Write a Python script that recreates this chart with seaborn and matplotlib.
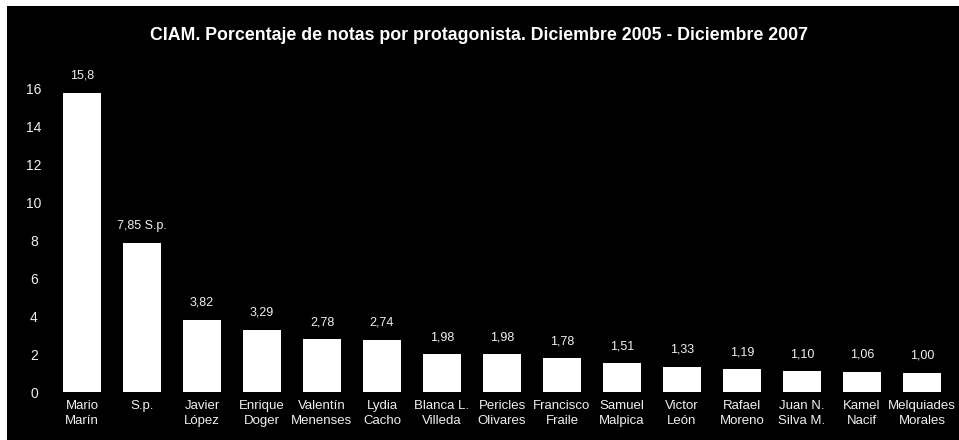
import numpy as np
import pandas as pd
import matplotlib
matplotlib.use("Agg")
import matplotlib.pyplot as plt
import seaborn as sns
from matplotlib.patches import Rectangle

# data
names = ["Mario\nMarín", "S.p.", "Javier\nLópez", "Enrique\nDoger", "Valentín\nMenenses",
         "Lydia\nCacho", "Blanca L.\nVilleda", "Pericles\nOlivares", "Francisco\nFraile",
         "Samuel\nMalpica", "Victor\nLeón", "Rafael\nMoreno", "Juan N.\nSilva M.",
         "Kamel\nNacif", "Melquiades\nMorales"]
porcentaje = [15.8, 7.85, 3.82, 3.29, 2.78, 2.74, 1.98, 1.98, 1.78, 1.51, 1.33, 1.19, 1.10, 1.06, 1.00]
etiquetas = ["15,8", "7,85 S.p.", "3,82", "3,29", "2,78", "2,74", "1,98", "1,98", "1,78",
             "1,51", "1,33", "1,19", "1,10", "1,06", "1,00"]
yticks = [0, 2, 4, 6, 8, 10, 12, 14, 16]

df = pd.DataFrame({"nombre": names, "pct": porcentaje})

sns.set_style("dark")
plt.rcParams["font.family"] = ["Liberation Sans", "DejaVu Sans"]

W, H = 959, 440
fig = plt.figure(figsize=(W / 100, H / 100), dpi=100, facecolor="white")
# black panel with a thin white border on the top and left
fig.patches.append(Rectangle((7 / W, 0), 1, (H - 6) / H, transform=fig.transFigure,
                             facecolor="black", edgecolor="none", zorder=-1))

ax = fig.add_axes([52 / W, (H - 392) / H, 900 / W, 322 / H])
ax.set_facecolor("black")

sns.barplot(data=df, x="nombre", y="pct", color="white", saturation=1,
            width=0.63, ax=ax, edgecolor="none")

ax.set_ylim(0, 17)
ax.set_xlim(-0.5, len(names) - 0.5)
ax.set_yticks(yticks)
ax.set_yticklabels([str(t) for t in yticks])
for spine in ax.spines.values():
    spine.set_visible(False)
ax.grid(False)
ax.set_xlabel("")
ax.set_ylabel("")
ax.tick_params(axis="y", length=0, pad=13, colors="#f0f0f0", labelsize=10)
ax.tick_params(axis="x", length=0, pad=6, colors="#f0f0f0", labelsize=9.5)
for lbl in ax.get_yticklabels():
    lbl.set_horizontalalignment("center")
for lbl in ax.get_xticklabels():
    lbl.set_linespacing(1.3)

for i, (v, t) in enumerate(zip(porcentaje, etiquetas)):
    ax.annotate(t, (i, v), xytext=(0, 8), textcoords="offset points",
                ha="center", va="bottom", color="#f0f0f0", fontsize=9)

fig.text(0.5, (H - 36) / H, "CIAM. Porcentaje de notas por protagonista. Diciembre 2005 - Diciembre 2007",
         ha="center", va="center", color="white", fontsize=12.8, fontweight="bold")

fig.savefig("out.png", dpi=100, facecolor=fig.get_facecolor())
